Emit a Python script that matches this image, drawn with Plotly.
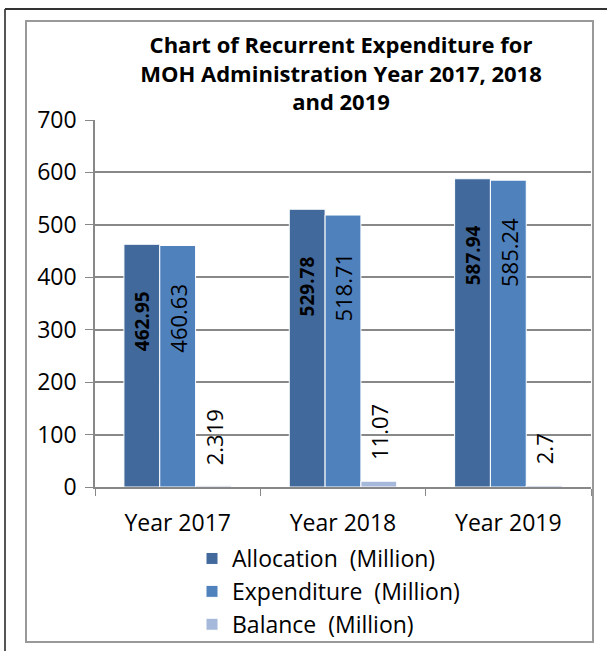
import plotly.graph_objects as go

categories = ["Year 2017", "Year 2018", "Year 2019"]
allocation = [462.95, 529.78, 587.94]
expenditure = [460.63, 518.71, 585.24]
balance = [2.319, 11.07, 2.7]
alloc_labels = ["462.95", "529.78", "587.94"]
exp_labels = ["460.63", "518.71", "585.24"]
bal_labels = ["2.319", "11.07", "2.7"]
series_names = ["Allocation\u00a0 (Million)", "Expenditure\u00a0 (Million)", "Balance\u00a0 (Million)"]
colors = ["#41699B", "#4F81BD", "#A7B9DA"]
y_ticks = [0, 100, 200, 300, 400, 500, 600, 700]

W, H = 607, 651
L, R, T, B = 95, 16, 120, 164
pw = W - L - R
ph = H - T - B
FONT = "Open Sans"

def px_x(p):
    return (p - L) / pw

def px_y(p):
    return (H - B - p) / ph

fig = go.Figure()
for name, vals, col in zip(series_names, [allocation, expenditure, balance], colors):
    fig.add_trace(go.Bar(
        x=categories, y=vals, name=name, legendgroup=name,
        marker=dict(color=col, line=dict(color="white", width=1)),
    ))

bargap = 0.35
bar_px = pw / 3 * (1 - bargap) / 3
ann = []
for i, c in enumerate(categories):
    ann.append(dict(x=c, y=allocation[i], text=alloc_labels[i], textangle=-90,
                    xshift=-bar_px, yshift=-45, yanchor="top", xanchor="center",
                    showarrow=False, font=dict(family=FONT, size=19, color="black", weight="bold")))
    ann.append(dict(x=c, y=expenditure[i], text=exp_labels[i], textangle=-90,
                    xshift=0, yshift=-36, yanchor="top", xanchor="center",
                    showarrow=False, font=dict(family=FONT, size=22, color="black")))
    ann.append(dict(x=c, y=balance[i], text=bal_labels[i], textangle=-90,
                    xshift=bar_px, yshift=19, yanchor="bottom", xanchor="center",
                    showarrow=False, font=dict(family=FONT, size=22, color="black")))

shapes = [
    dict(type="rect", xref="paper", yref="paper",
         x0=px_x(26), x1=px_x(593), y0=px_y(642), y1=px_y(21),
         line=dict(color="#999999", width=2), fillcolor="rgba(0,0,0,0)", layer="below"),
    dict(type="line", xref="paper", yref="paper",
         x0=px_x(5), x1=px_x(5), y0=px_y(651), y1=px_y(9),
         line=dict(color="#555555", width=2)),
    dict(type="line", xref="paper", yref="paper",
         x0=px_x(5), x1=px_x(607), y0=px_y(9), y1=px_y(9),
         line=dict(color="#333333", width=2)),
]

fig.update_layout(
    width=W, height=H,
    margin=dict(l=L, r=R, t=T, b=B, autoexpand=False),
    paper_bgcolor="white", plot_bgcolor="white",
    barmode="group", bargap=bargap, bargroupgap=0,
    title=dict(text="Chart of Recurrent Expenditure for<br>MOH Administration Year 2017, 2018<br>and 2019",
               x=px_x(341), xanchor="center", xref="paper",
               y=1 - 53 / H, yanchor="top", yref="container",
               font=dict(family=FONT, size=22, color="black", weight="bold")),
    showlegend=True,
    legend=dict(x=px_x(192), y=px_y(537), xanchor="left", yanchor="top",
                orientation="v", tracegroupgap=0,
                font=dict(family=FONT, size=23, color="black"),
                bgcolor="rgba(0,0,0,0)"),
    annotations=ann,
    shapes=shapes,
    font=dict(family=FONT, color="black"),
)
fig.update_xaxes(showline=True, linecolor="#888888", linewidth=1.5,
                 ticks="outside", tickson="boundaries", ticklen=7, tickcolor="#888888",
                 ticklabelstandoff=15,
                 tickfont=dict(family=FONT, size=23, color="black"), showgrid=False)
fig.update_yaxes(range=[0, 700], tickvals=y_ticks, showline=True, linecolor="#888888", linewidth=1.5,
                 ticks="outside", ticklen=8, tickcolor="#888888", ticklabelstandoff=4,
                 showgrid=True, gridcolor="#888888", gridwidth=1.5,
                 tickfont=dict(family=FONT, size=23, color="black"), zeroline=False)

fig.write_html("out.html", config={"displayModeBar": False},
               post_script="document.body.style.margin='0';")
